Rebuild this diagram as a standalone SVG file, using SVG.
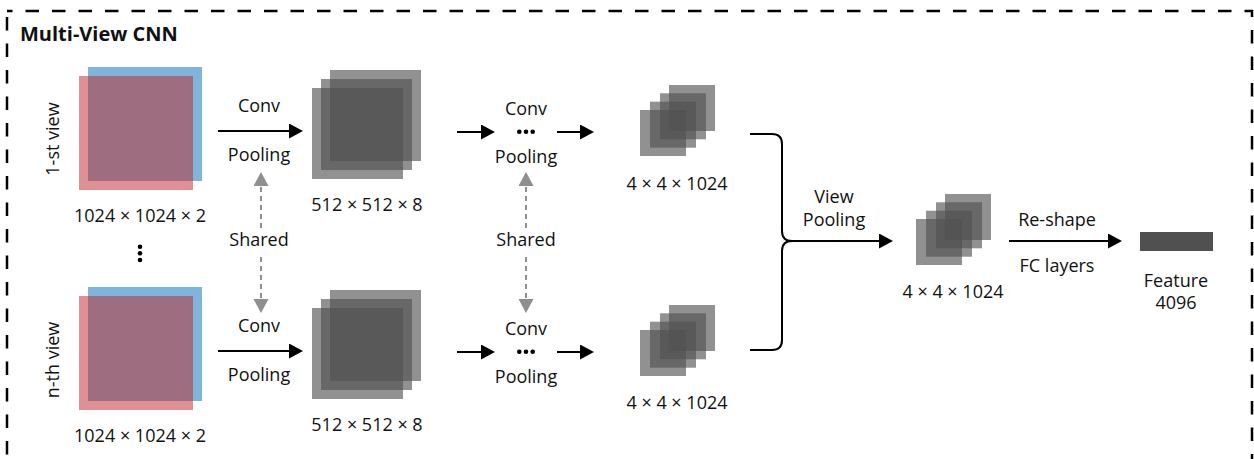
<svg xmlns="http://www.w3.org/2000/svg" width="1254" height="459" viewBox="0 0 1254 459">
<style>
text{font-family:"Open Sans","Liberation Sans",sans-serif;font-size:18px;fill:#111;text-anchor:middle}
.title{font-size:20px;font-weight:bold;text-anchor:start}
.blue{fill:#7fb5da}.red{fill:#e08f94}.mix{fill:#9e6e80}
.gs{fill:#505050;fill-opacity:0.63}
.arr{fill:none;stroke:#000;stroke-width:2;marker-end:url(#ah)}
.sh{fill:none;stroke:#8f8f8f;stroke-width:2;stroke-dasharray:5 4;marker-end:url(#gh)}
.br{fill:none;stroke:#000;stroke-width:2}
</style>
<defs>
<marker id="ah" markerUnits="userSpaceOnUse" markerWidth="15" markerHeight="16" refX="4" refY="7.5" orient="auto"><path d="M0,0 L14,7.5 L0,15 z" fill="#000"/></marker>
<marker id="gh" markerUnits="userSpaceOnUse" markerWidth="15" markerHeight="16" refX="4" refY="7.5" orient="auto"><path d="M0,0 L14,7.5 L0,15 z" fill="#8f8f8f"/></marker>
<g id="inp"><rect class="blue" x="88" y="67" width="114" height="114"/><rect class="red" x="79" y="76" width="114" height="114"/><rect class="mix" x="88" y="76" width="105" height="105"/></g>
<g id="mid"><rect class="gs" x="330" y="70" width="91" height="91"/><rect class="gs" x="321" y="79" width="91" height="91"/><rect class="gs" x="312" y="88" width="91" height="91"/></g>
<g id="sm"><rect class="gs" x="29" y="0" width="46" height="46"/><rect class="gs" x="20" y="8.3" width="46" height="46"/><rect class="gs" x="10" y="16.7" width="46" height="46"/><rect class="gs" x="0" y="25" width="46" height="46"/></g>
</defs>
<rect x="7" y="11" width="1245" height="470" fill="none" stroke="#000" stroke-width="2.5" stroke-dasharray="13.5 13" stroke-dashoffset="8"/>
<text class="title" x="20" y="41">Multi-View CNN</text>
<g id="view1">
<use href="#inp"/>
<text transform="translate(59,139) rotate(-90)">1-st view</text>
<text x="140" y="222">1024 × 1024 × 2</text>
</g>
<g id="dotsv"><circle cx="140" cy="246.7" r="2.3"/><circle cx="140" cy="253.3" r="2.3"/><circle cx="140" cy="260" r="2.3"/></g>
<g id="viewN">
<use href="#inp" y="220"/>
<text transform="translate(59,360) rotate(-90)">n-th view</text>
<text x="140" y="442">1024 × 1024 × 2</text>
</g>
<g id="f1"><use href="#mid"/><text x="367" y="211">512 × 512 × 8</text></g>
<g id="fN"><use href="#mid" y="220"/><text x="367" y="431">512 × 512 × 8</text></g>
<g id="s1"><use href="#sm" x="640" y="85"/><text x="677" y="190">4 × 4 × 1024</text></g>
<g id="sN"><use href="#sm" x="640" y="305"/><text x="677" y="409">4 × 4 × 1024</text></g>
<g id="pooled"><use href="#sm" x="916" y="194"/><text x="953" y="298">4 × 4 × 1024</text></g>
<g id="feature"><rect x="1140" y="232" width="73" height="19" fill="#505050"/><text x="1176" y="287">Feature</text><text x="1176" y="309">4096</text></g>
<g id="labels">
<text x="259" y="112">Conv</text><text x="259" y="161">Pooling</text>
<text x="259" y="332">Conv</text><text x="259" y="381">Pooling</text>
<text x="259" y="246">Shared</text>
<text x="526" y="115">Conv</text><text x="526" y="163">Pooling</text>
<text x="526" y="335">Conv</text><text x="526" y="383">Pooling</text>
<text x="526" y="246">Shared</text>
<g><circle cx="519.3" cy="131.7" r="2.3"/><circle cx="526" cy="131.7" r="2.3"/><circle cx="532.7" cy="131.7" r="2.3"/></g>
<g><circle cx="519.3" cy="351.7" r="2.3"/><circle cx="526" cy="351.7" r="2.3"/><circle cx="532.7" cy="351.7" r="2.3"/></g>
<text x="834" y="203">View</text><text x="834" y="226">Pooling</text>
<text x="1057" y="226">Re-shape</text><text x="1057" y="272">FC layers</text>
</g>
<g id="connectors">
<path class="arr" d="M218,131 H293"/>
<path class="arr" d="M218,351 H293"/>
<path class="arr" d="M457,132 H485"/>
<path class="arr" d="M557,132 H584"/>
<path class="arr" d="M457,352 H485"/>
<path class="arr" d="M557,352 H584"/>
<path class="sh" d="M261,228 V182"/>
<path class="sh" d="M261,257 V303"/>
<path class="sh" d="M526,228 V182"/>
<path class="sh" d="M526,257 V303"/>
<path class="br" d="M750,134 H772 Q782,134 782,144 V231 Q782,241 792,241"/>
<path class="br" d="M750,350 H772 Q782,350 782,340 V251 Q782,241 792,241"/>
<path class="arr" d="M791,241 H883"/>
<path class="arr" d="M1009,241 H1112"/>
</g>
</svg>
